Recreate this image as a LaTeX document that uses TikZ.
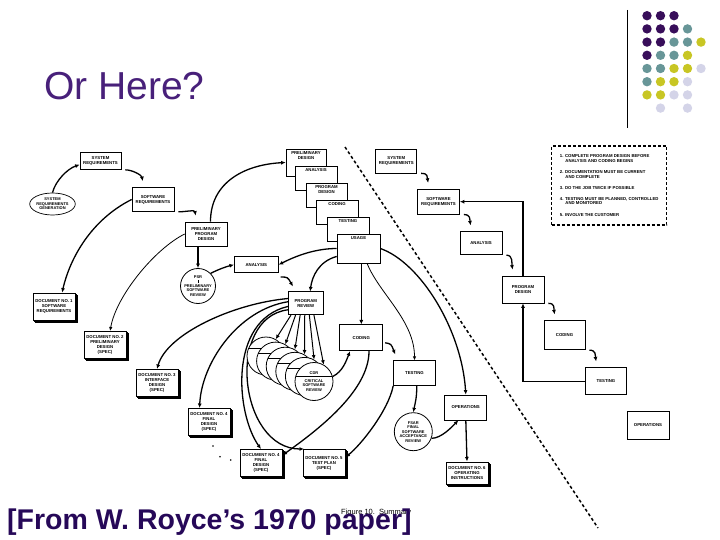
\documentclass[tikz,border=0pt]{standalone}
\usepackage{fontspec}
\setmainfont{Liberation Sans}
\usepackage{tikz}
\usetikzlibrary{positioning,shapes,calc,arrows.meta,shadows}

\definecolor{titlepurple}{RGB}{72,32,122}
\definecolor{notepurple}{RGB}{38,8,88}
\definecolor{dotpurple}{RGB}{56,14,90}
\definecolor{dotteal}{RGB}{104,150,152}
\definecolor{dotyellow}{RGB}{200,198,36}
\definecolor{dotlilac}{RGB}{212,212,232}

\begin{document}
\begin{tikzpicture}[x=1pt,y=-1pt]
		\newcommand\figfont{\fontsize{4.3}{5}\selectfont\bfseries}
		\newcommand\circfont{\fontsize{4}{4.5}\selectfont\bfseries}
		\newcommand\notefont{\fontsize{4.3}{4.6}\selectfont\bfseries}
		
		\tikzset{stagebox/.style={draw,fill=white,line width=0.7pt,align=center,inner sep=1pt,font=\figfont}}
		\tikzset{docbox/.style={stagebox,line width=1pt,double copy shadow={shadow xshift=1.2pt,shadow yshift=-1.2pt}}}
		\tikzset{reviewcirc/.style={draw,circle,fill=white,line width=0.8pt,align=center,inner sep=0pt,font=\circfont}}
		\tikzset{flow/.style={-{Latex[length=4.5pt,width=4pt]},line width=1.3pt}}
		\tikzset{thinflow/.style={-{Latex[length=4pt,width=3.5pt]},line width=0.8pt}}
		
		\useasboundingbox (0,0) rectangle (720,540);
		
		\newcommand\drawStage[6] % {x} {y} {width} {height} {label} {name}
		{
			\node[stagebox, minimum width=#3pt, minimum height=#4pt] at (#1, #2) (#6) {#5};
		}
		
		\newcommand\drawStep[6] % {x} {y} {width} {height} {label} {name}
		{
			\node[
			stagebox, minimum width=#3pt, minimum height=#4pt,
			label={[anchor=north,font=\figfont,align=center,inner sep=2.5pt]north:{#5}}
			] at (#1, #2) (#6) {};
		}
		
		\newcommand\drawDoc[5] % {x} {y} {height} {label} {name}
		{
			\node[docbox, minimum width=42pt, minimum height=#3pt] at (#1, #2) (#5) {#4};
		}
		
		\newcommand\stepArrow[2] % {from} {to}
		{
			\draw[flow] ($(#1.south east)+(4,0)$) .. controls +(7,0) and +(-1,-6) .. ($(#2.north west)+(11,-6)$);
		}
		
		% slide
		\node[anchor=base west, inner sep=0pt, text=titlepurple, font=\fontsize{39}{41}\selectfont] (title) at (44,100) {Or Here?};
		\draw[line width=0.6pt] (627,10) -- (627,128);
		\foreach \c/\r/\col in {0/0/dotpurple, 1/0/dotpurple, 2/0/dotpurple,
			0/1/dotpurple, 1/1/dotpurple, 2/1/dotpurple, 3/1/dotteal,
			0/2/dotpurple, 1/2/dotpurple, 2/2/dotteal, 3/2/dotteal, 4/2/dotyellow,
			0/3/dotpurple, 1/3/dotteal, 2/3/dotteal, 3/3/dotyellow,
			0/4/dotteal, 1/4/dotteal, 2/4/dotyellow, 3/4/dotyellow, 4/4/dotlilac,
			0/5/dotteal, 1/5/dotyellow, 2/5/dotyellow, 3/5/dotlilac,
			0/6/dotyellow, 1/6/dotyellow, 2/6/dotlilac, 3/6/dotlilac,
			1/7/dotlilac, 3/7/dotlilac}
		{
			\fill[\col] (647+13.5*\c, 15.7+13.2*\r) circle[radius=4.7pt];
		}
		
		% left column
		\drawStage{100.5}{161}{41}{17}{SYSTEM\\REQUIREMENTS}{sysreqL}
		\node[stagebox, ellipse, inner sep=0pt, font=\circfont, minimum width=42pt, minimum height=22pt] at (52.5, 204) (sysgen) {SYSTEM\\REQUIREMENTS\\GENERATION};
		\drawStage{153}{199.5}{42}{24}{SOFTWARE\\REQUIREMENTS}{softreqL}
		\drawStage{206}{234}{42}{24}{PRELIMINARY\\PROGRAM\\DESIGN}{ppd}
		
		% cascade
		\drawStep{306}{162.5}{40}{27}{PRELIMINARY\\DESIGN}{prelimC}
		\drawStep{316}{178}{42}{24}{ANALYSIS}{anaC}
		\drawStep{326.5}{195}{41}{24}{PROGRAM\\DESIGN}{progC}
		\drawStep{337}{212}{42}{24}{CODING}{codC}
		\drawStep{348}{229}{42}{24}{TESTING}{testC}
		\drawStep{358.5}{248.5}{43}{29}{USAGE}{usage}
		
		% right column
		\drawStage{396.3}{161}{41}{24}{SYSTEM\\REQUIREMENTS}{sysreqR}
		\drawStage{438.5}{201.7}{42}{25}{SOFTWARE\\REQUIREMENTS}{softreqR}
		\drawStage{481}{243.3}{42}{23}{ANALYSIS}{anaR}
		\drawStage{523}{289.5}{42}{27}{PROGRAM\\DESIGN}{progR}
		\drawStage{564.5}{335.3}{41}{29}{CODING}{codR}
		\drawStage{606}{381.3}{41}{27}{TESTING}{testR}
		\drawStage{648}{425.5}{42}{28}{OPERATIONS}{opsR}
		
		\node[draw, line width=1.3pt, dash pattern=on 3pt off 2pt, align=left, font=\notefont,
		minimum width=115pt, minimum height=79pt] at (609.2, 185.5) (rules)
		{1. COMPLETE PROGRAM DESIGN BEFORE\\\hspace*{5.5pt}ANALYSIS AND CODING BEGINS\\[6.5pt]
			2. DOCUMENTATION MUST BE CURRENT\\\hspace*{5.5pt}AND COMPLETE\\[6.5pt]
			3. DO THE JOB TWICE IF POSSIBLE\\[6.5pt]
			4. TESTING MUST BE PLANNED, CONTROLLED\\\hspace*{5.5pt}AND MONITORED\\[6.5pt]
			5. INVOLVE THE CUSTOMER};
		
		% middle
		\drawStage{256.3}{264.7}{44}{16}{ANALYSIS}{anaM}
		\node[reviewcirc, minimum size=35pt] at (198, 286) (psr) {PSR\\\rule{0.4pt}{2.5pt}\\PRELIMINARY\\SOFTWARE\\REVIEW};
		\drawStage{305.8}{303.3}{35}{23}{PROGRAM\\REVIEW}{prv}
		\drawStage{361.3}{337.8}{43}{26}{CODING}{codM}
		\drawStage{414.5}{373.2}{42}{25}{TESTING}{testM}
		\drawStage{465.8}{407.5}{42}{25}{OPERATIONS}{opsM}
		\node[reviewcirc, minimum size=38pt] at (413.3, 431.7) (fsar) {FSAR\\FINAL\\SOFTWARE\\ACCEPTANCE\\REVIEW};
		
		% documents
		\drawDoc{54}{306.6}{27}{DOCUMENT NO. 1\\SOFTWARE\\REQUIREMENTS}{doc1}
		\drawDoc{105}{345}{27}{DOCUMENT NO. 2\\PRELIMINARY\\DESIGN\\(SPEC)}{doc2}
		\drawDoc{157}{383}{27}{DOCUMENT NO. 3\\INTERFACE\\DESIGN\\(SPEC)}{doc3}
		\drawDoc{209}{422}{27}{DOCUMENT NO. 4\\FINAL\\DESIGN\\(SPEC)}{doc4}
		\drawDoc{261}{463}{27}{DOCUMENT NO. 4\\FINAL\\DESIGN\\(SPEC)}{docBuilt}
		\drawDoc{324}{463}{27}{DOCUMENT NO. 5\\TEST PLAN\\(SPEC)}{doc5}
		\drawDoc{467}{473}{22}{DOCUMENT NO. 6\\OPERATING\\INSTRUCTIONS}{doc6}
		
		\fill (213,446) circle[radius=0.9pt];
		\fill (220,456.7) circle[radius=0.9pt];
		\fill (230.7,460) circle[radius=0.9pt];
		
		% arcs behind the review circles
		\draw[flow] (prv.165) .. controls +(-55,5) and +(10,-35) .. (doc3.north);
		\draw[flow] (prv.175) .. controls +(-50,8) and +(2,-45) .. (doc4.124);
		\draw[flow] (prv.190) .. controls +(-60,14) and +(-25,-35) .. (docBuilt.north);
		\draw[flow] (prv.200) .. controls +(-63,8) and +(-65,0) .. (doc5.145);
		
		\foreach \i in {0,...,4}
		{
			\node[reviewcirc, minimum size=38pt] at (266+9.6*\i, 356+5.1*\i) (cdr\i) {};
			\draw ($(cdr\i.center)+(-17.2,-8)$) -- ++(34.4,0);
		}
		\node[reviewcirc, minimum size=38pt] at (314, 381.5) (cdr5) {CDR\\[3.5pt]CRITICAL\\SOFTWARE\\REVIEW};
		\draw ($(cdr5.center)+(-18.4,-5)$) -- ++(36.8,0);
		
		% connectors
		\draw[flow] (sysgen.north) .. controls +(3,-12) and +(-12,4) .. (sysreqL.190);
		\stepArrow{sysreqL}{softreqL}
		\stepArrow{softreqL}{ppd}
		\draw[flow] (softreqL.west) .. controls +(-40,20) and +(8,-35) .. (doc1.60);
		\draw[thinflow] (ppd.west) .. controls +(-30,15) and +(6,-35) .. (doc2.70);
		\draw[flow] (ppd.70) .. controls +(0,-40) and +(-40,2) .. (prelimC.west);
		\draw[flow] (psr.north |- ppd.south) -- (psr.north);
		\draw[flow] (psr.45) .. controls +(8,-4) and +(-8,2) .. (anaM.west);
		
		\draw[flow] (usage.west) .. controls +(-25,0) and +(12,-6) .. (anaM.east);
		\draw[flow] ($(anaM.south east)+(2,4)$) .. controls +(7,0) .. ($(prv.north west)+(5,-5)$);
		\draw[flow] (usage.200) .. controls +(-18,5) and +(2,-15) .. (prv.70);
		\draw[flow] (codM.north |- usage.south) -- (codM.north);
		\draw[thinflow] (usage.-60) .. controls +(12,30) and +(0,-40) .. (testM.north);
		\draw[flow] (usage.east) .. controls +(40,14) and +(-4,-65) .. (opsM.north);
		\draw[flow] ($(codM.east)+(2,5)$) .. controls +(6,1) .. ($(testM.north west)+(2,-6)$);
		\draw[flow] (testM.-80) .. controls +(0,12) and +(2,-10) .. (fsar.north);
		\draw[flow] (fsar.-20) .. controls +(10,0) and +(-6,6) .. (opsM.-120);
		\draw[flow] (opsM.south) -- (doc6.north);
		
		\foreach \i in {0,...,5}
		{
			\draw[flow, line width=1pt] ($(prv.south west)+(3+4.6*\i,0)$) -- (cdr\i.60);
		}
		\draw[flow] (cdr5.15) .. controls +(10,-5) and +(-4,10) .. (codM.-130);
		\draw[flow] (codM.-60) .. controls +(0,40) and +(35,-25) .. (docBuilt.20);
		\draw[flow] (testM.south west) .. controls +(-5,25) and +(15,-12) .. (doc5.15);
		
		\stepArrow{sysreqR}{softreqR}
		\stepArrow{softreqR}{anaR}
		\stepArrow{anaR}{progR}
		\stepArrow{progR}{codR}
		\stepArrow{codR}{testR}
		\draw[flow] (progR.north) |- (softreqR.east);
		\draw[flow] (testR.west) -| (progR.south);
		
		\draw[line width=1.5pt, dash pattern=on 3pt off 2.5pt] (345,147) -- (598,528);
		
		% captions
		\node[anchor=base west, inner sep=0pt, font=\fontsize{7.5}{8}\selectfont] (figcap) at (341,514) {Figure 10.\ \ Summary};
		\node[anchor=base west, inner sep=0pt, text=notepurple, font=\fontsize{28.5}{30}\selectfont\bfseries] (source) at (7,529) {[From W. Royce’s 1970 paper]};
		
\end{tikzpicture}
\end{document}
